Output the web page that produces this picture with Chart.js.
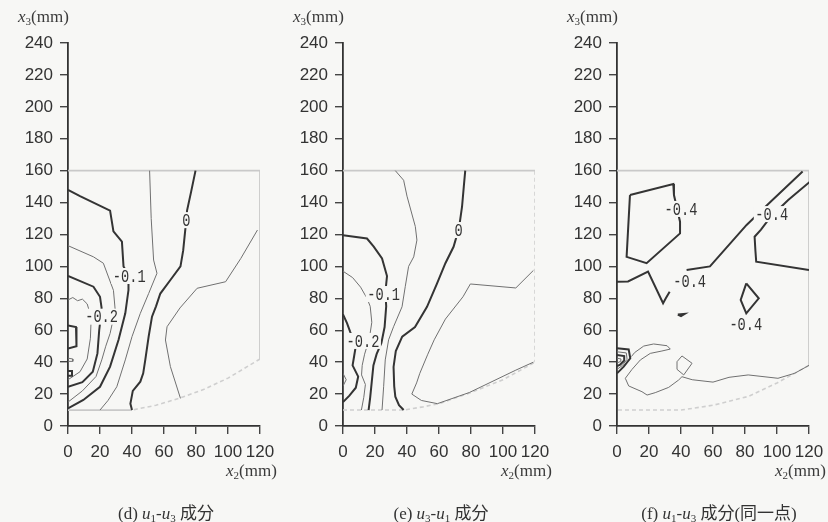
<!DOCTYPE html>
<html>
<head>
<meta charset="utf-8">
<script src="https://cdn.jsdelivr.net/npm/chart.js@4.4.0/dist/chart.umd.min.js"></script>
<style>
  html, body { margin: 0; padding: 0; background: #f7f7f5; }
  #wrap { position: relative; width: 828px; height: 522px; overflow: hidden; }
  .panel { position: absolute; top: 0; width: 276px; height: 522px; }
  .panel canvas { position: absolute; left: 0; top: 0; }
  .ytitle { position: absolute; top: 7px; left: 18px; font: 17px 'Liberation Serif', serif; color: #3a3a3a; white-space: nowrap; }
  .xtitle { position: absolute; top: 461px; left: 226px; font: 17px 'Liberation Serif', serif; color: #3a3a3a; white-space: nowrap; }
  .cap { position: absolute; top: 499px; left: 66px; width: 200px; text-align: center; font: 17px 'Liberation Serif', 'Noto Sans CJK JP', serif; color: #333; white-space: nowrap; }
  sub { font-size: 11px; vertical-align: -3px; }
</style>
</head>
<body>
<div id="wrap">
  <div class="panel" style="left:0px">
    <canvas id="chartD" width="276" height="522"></canvas>
    <div class="ytitle"><i>x</i><sub>3</sub>(mm)</div>
    <div class="xtitle"><i>x</i><sub>2</sub>(mm)</div>
    <div class="cap">(d) <i>u</i><sub>1</sub>-<i>u</i><sub>3</sub> 成分</div>
  </div>
  <div class="panel" style="left:275px">
    <canvas id="chartE" width="276" height="522"></canvas>
    <div class="ytitle"><i>x</i><sub>3</sub>(mm)</div>
    <div class="xtitle"><i>x</i><sub>2</sub>(mm)</div>
    <div class="cap">(e) <i>u</i><sub>3</sub>-<i>u</i><sub>1</sub> 成分</div>
  </div>
  <div class="panel" style="left:549px">
    <canvas id="chartF" width="276" height="522"></canvas>
    <div class="ytitle"><i>x</i><sub>3</sub>(mm)</div>
    <div class="xtitle"><i>x</i><sub>2</sub>(mm)</div>
    <div class="cap" style="left:60px;width:220px">(f) <i>u</i><sub>1</sub>-<i>u</i><sub>3</sub> 成分(同一点)</div>
  </div>
</div>

<script>
// axes
const xTicks = [0, 20, 40, 60, 80, 100, 120];
const yTicks = [0, 20, 40, 60, 80, 100, 120, 140, 160, 180, 200, 220, 240];

// (d) u1-u3 : contour lines [x2, x3]
const dEdge   = [[0,160],[120,160],[120,42]];
const dBottom = [[120,42],[100,30],[85,23],[70,17.5],[55,13],[40,10]];
const dBase   = [[0,10],[40,10]];
const dThin1  = [[118.4,122.8],[108,105],[98.5,90.4],[80.7,86.3],[70,74],[61.9,62.2],[60.9,53.9],[64,37.2],[70.3,17.3]];
const dZero   = [[79.7,160],[77,147],[74.4,135],[73.4,124],[72,110],[70.3,100],[64,91.5],[57.7,83],[55,75],[52.5,68.5],[50.4,56],[48.3,41.4],[47,33],[45.2,27.8],[40.5,22],[39,14],[40,10]];
const dThin2  = [[51,160],[52,130],[53.5,104],[55.6,95.7],[50.4,83],[45.2,70.6],[40,56],[35.8,41.4],[30.5,24.6],[25,16],[20,10]];
const dMinus1 = [[0,148],[7.5,144],[26.3,135],[28.4,122],[33.7,115.5],[34.7,100],[37.8,94.6],[37.8,85.2],[35.8,70.6],[31.6,54],[26.3,37.2],[20,24.6],[9.6,16.3],[0,11]];
const dThin3  = [[0,113],[15.9,106],[22.1,102],[28.4,85],[29.5,72.7],[26.3,58],[23.6,50],[21.1,41.4],[17.5,31],[9,22],[0,15]];
const dMinus2 = [[0,94],[15.9,87.3],[20,81],[21,74],[20.5,68.5],[19.5,60],[18.4,45.5],[15.5,34],[9,27.5],[0,24.5]];
const dThin4  = [[0,79],[3,80.5],[6,78.5],[9,79.5],[12,76.5],[14.5,68],[14,55],[12,42],[7.5,34],[0,29]];
const dMinus3 = [[0,63],[5,62],[5.3,50],[0,48.5]];
const dThin5  = [[0,42.5],[3,42],[3,40.5],[0,40.5]];
const dMinus3b = [[0,34.5],[2.5,34.5],[2.5,31.5],[0,31.5]];
const dLabels = [{t:'0', x:74, y:129}, {t:'-0.1', x:38.3, y:94}, {t:'-0.2', x:21, y:68.5}];

// (e) u3-u1
const eEdge   = [[0,160],[120,160]];
const eRight  = [[120,160],[120,40]];
const eBottom = [[0,10],[38,10],[50,12],[60,14],[80,21],[100,29],[120,40]];
const eThin1  = [[119,97.5],[108,86.5],[79.6,89],[75,81],[64,67],[57,54],[53,45],[48,33],[46,27],[43,20],[49,16],[59,14],[79,21],[108,35],[119,40]];
const eZero   = [[76.4,160],[75.5,150],[74.4,137.4],[72.5,124],[69.1,112.3],[64,102],[58.8,89.4],[52.5,74.7],[45,62],[37,56],[33,47],[31.6,37],[32,25],[32.7,18.4],[35,13],[37.9,10]];
const eThin2  = [[32.7,160],[37.9,154],[40,144],[45.2,125],[46.2,116.5],[44.2,106],[41,100],[38.9,87.3],[36.9,74.7],[31.6,62.2],[28.5,54],[26.4,41.4],[25.4,24.6],[24.4,10]];
const eMinus1 = [[0,119.5],[15,117.5],[19.2,112.4],[24.4,105],[27.5,94],[26.5,84],[27,75],[26,62],[24,52],[21,45],[19,38],[18,28],[17,18],[16,10]];
const eThin3  = [[0,97],[6,93],[11,87],[15,80],[17,75],[18,65],[16.5,55],[13.5,45],[12,38],[11.6,32],[14,26],[13,18],[11.5,10]];
const eMinus2 = [[0,70],[2.5,64.5],[4.5,59],[8,50],[7,44],[6,38],[9.5,31],[8,24],[4,19],[0,15]];
const eThin4  = [[0,33],[2,29],[0,25]];
const eLabels = [{t:'0', x:72.3, y:122.8}, {t:'-0.1', x:25.4, y:82.7}, {t:'-0.2', x:12.5, y:53.3}];

// (f) u1-u3 (same point)
const fEdge   = [[0,160],[120,160],[120,38]];
const fBottom = [[120,38],[100,27],[82,18.5],[60,13],[40,10],[0,10]];
const fPent   = [[8.1,144.7],[35.2,151.6],[35.6,144.7],[39.4,128],[39.4,120.7],[18.5,102],[6,106],[8.1,144.7]];
const fDiagA  = [[116,159.5],[96,140.5],[81,126],[58.1,100],[43.5,97.7]];
const fDiagB  = [[120.5,153],[107,141.6],[96,131],[90,123],[86,118.6],[86.5,110],[87,103],[120,97.7]];
const fHook   = [[0,90.4],[6.9,90.6],[19.4,96.7],[28.8,76.9],[30.5,80],[32.9,84.1]];
const fDiamond = [[80.8,89.4],[88.6,80],[80.8,70.6],[77.3,79],[80.8,89.4]];
const fTiny   = [[38,69.8],[42.3,70.2],[40,68.8],[38,69.8]];
const fNest1  = [[0,48.7],[7.3,48],[8.3,42.4],[4.2,37.2],[0,33]];
const fNest2  = [[0,46.5],[5.8,45.8],[6.3,41.8],[3.2,37.8],[0,35.5]];
const fNest3  = [[0,44.5],[4.5,43.8],[4.5,41],[2,38.5],[0,37.5]];
const fNest4  = [[0,42.5],[2.5,42],[2.3,40.5],[0,39.5]];
const fBlob   = [[9,43.5],[11,46],[16.7,50.1],[22.9,51.4],[31.3,50.3],[33.3,48.2],[28.1,47],[20.8,45.5],[14.6,41.4],[9.4,35.5],[5.2,29.9],[7.3,25.1],[15.6,21.5],[18.8,19.4],[23.9,20.9],[32.3,24.2],[38.5,28.8],[40.6,30.9],[47,29],[60,27.5],[70,30.5],[82,32],[100.6,29.9],[111,33],[120,38]];
const fDiamond2 = [[37.5,40.3],[40.6,43.9],[46.9,39.3],[41.7,32],[37.5,35.5],[37.5,40.3]];
const fLabels = [{t:'-0.4', x:40, y:136}, {t:'-0.4', x:96.7, y:132.8}, {t:'-0.4', x:45.4, y:91}, {t:'-0.4', x:80.5, y:64}];

const BG = '#f7f7f5';
const STYLES = {
  thick: { color: '#343434', width: 2 },
  thin:  { color: '#707070', width: 1 },
  edge:  { color: '#c9c9c9', width: 1.8 },
  edgeDash: { color: '#cfcfcf', width: 1.6, dash: [4, 3] }
};

function seg(pts, kind) {
  const s = STYLES[kind];
  return {
    data: pts.map(p => ({ x: p[0], y: p[1] })),
    showLine: true,
    pointRadius: 0,
    borderColor: s.color,
    borderWidth: s.width,
    borderDash: s.dash || [],
    fill: false,
    tension: 0
  };
}

function labelPlugin(items) {
  return {
    id: 'contourLabels',
    afterDatasetsDraw(chart) {
      const ctx = chart.ctx, xs = chart.scales.x, ys = chart.scales.y;
      ctx.save();
      ctx.font = '18px "Liberation Mono", monospace';
      ctx.textAlign = 'center';
      ctx.textBaseline = 'middle';
      items.forEach(l => {
        const px = xs.getPixelForValue(l.x), py = ys.getPixelForValue(l.y);
        ctx.save();
        ctx.translate(px, py);
        ctx.scale(0.76, 1);
        const w = ctx.measureText(l.t).width;
        ctx.fillStyle = BG;
        ctx.fillRect(-w / 2 - 2, -8, w + 4, 16);
        ctx.fillStyle = '#333';
        ctx.fillText(l.t, 0, 1);
        ctx.restore();
      });
      ctx.restore();
    }
  };
}

function makeChart(id, datasets, labels) {
  const tickFont = { family: "'Liberation Sans', sans-serif", size: 17 };
  return new Chart(document.getElementById(id), {
    type: 'scatter',
    data: { datasets: datasets },
    options: {
      responsive: false,
      animation: false,
      events: [],
      layout: { padding: { left: 0, right: 16, top: 43, bottom: 0 } },
      plugins: { legend: { display: false }, tooltip: { enabled: false } },
      scales: {
        x: {
          type: 'linear', min: 0, max: 120,
          afterBuildTicks: s => { s.ticks = xTicks.map(v => ({ value: v })); },
          afterFit: s => { s.height = 96; s.paddingLeft = 0; s.paddingRight = 0; },
          ticks: { color: '#333', font: tickFont, padding: 8, maxRotation: 0, autoSkip: false },
          grid: { drawOnChartArea: false, drawTicks: true, tickLength: 8, color: '#444', lineWidth: 1.4 },
          border: { display: true, color: '#333', width: 1.8 }
        },
        y: {
          type: 'linear', min: 0, max: 240,
          afterBuildTicks: s => { s.ticks = yTicks.map(v => ({ value: v })); },
          afterFit: s => { s.width = 68; s.paddingTop = 0; s.paddingBottom = 0; },
          ticks: { color: '#333', font: tickFont, padding: 7, autoSkip: false },
          grid: { drawOnChartArea: false, drawTicks: true, tickLength: 8, color: '#444', lineWidth: 1.4 },
          border: { display: true, color: '#333', width: 1.8 }
        }
      }
    },
    plugins: [labelPlugin(labels)]
  });
}

makeChart('chartD', [
  seg(dMinus3, 'thick'), seg(dThin5, 'thin'), seg(dMinus3b, 'thick'),
  seg(dThin4, 'thin'), seg(dMinus2, 'thick'), seg(dThin3, 'thin'),
  seg(dMinus1, 'thick'), seg(dThin2, 'thin'), seg(dZero, 'thick'), seg(dThin1, 'thin'),
  seg(dBase, 'edge'), seg(dBottom, 'edgeDash'), seg(dEdge, 'edge')
], dLabels);

makeChart('chartE', [
  seg(eThin4, 'thin'), seg(eMinus2, 'thick'), seg(eThin3, 'thin'), seg(eMinus1, 'thick'),
  seg(eThin2, 'thin'), seg(eZero, 'thick'), seg(eThin1, 'thin'),
  seg(eBottom, 'edgeDash'), seg(eRight, 'edgeDash'), seg(eEdge, 'edge')
], eLabels);

makeChart('chartF', [
  seg(fPent, 'thick'), seg(fDiagA, 'thick'), seg(fDiagB, 'thick'), seg(fHook, 'thick'),
  seg(fDiamond, 'thick'), seg(fTiny, 'thick'),
  seg(fNest1, 'thick'), seg(fNest2, 'thin'), seg(fNest3, 'thick'), seg(fNest4, 'thin'),
  seg(fBlob, 'thin'), seg(fDiamond2, 'thin'),
  seg(fBottom, 'edgeDash'), seg(fEdge, 'edge')
], fLabels);
</script>
</body>
</html>
